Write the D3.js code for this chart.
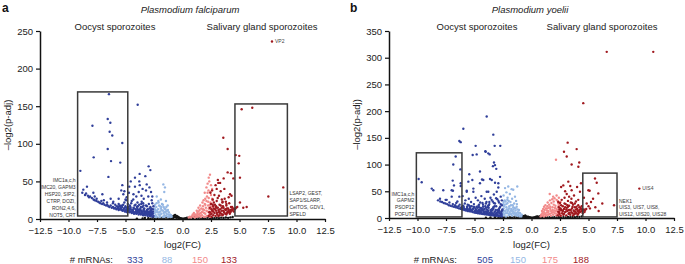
<!DOCTYPE html>
<html>
<head>
<meta charset="utf-8">
<script src="https://cdn.jsdelivr.net/npm/d3@7"></script>
<style>
  body { margin: 0; background: #fff; }
  svg { display: block; font-family: "Liberation Sans", Arial, sans-serif; }
</style>
</head>
<body>
<svg id="chart" width="685" height="264"></svg>
<script>
// ---- shared ticks ----
const xTicks = [-12.5, -10, -7.5, -5, -2.5, 0, 2.5, 5, 7.5, 10, 12.5];
const aYTicks = [0, 50, 100, 150, 200, 250];
const bYTicks = [0, 50, 100, 150, 200, 250, 300, 350];

// ---- panel a: P. falciparum, points are [log2(FC), -log2(p-adj)] ----
const aBlack = [[-4,0.5],[-3.5,0.8],[-3.3,1.4],[-3.0,1],[-2.8,0.5],[-2.6,1.5],[-2.4,0.8],[-2.2,1.2],[-2.0,0.6],[-1.8,1.5],[-1.6,0.9],[-1.4,1.8],[-1.2,1],[-1.0,2],[-0.95,1],[-0.9,3.5],[-0.85,2.5],[-0.8,1.3],[-0.75,4.5],[-0.7,2.5],[-0.65,5.5],[-0.6,3],[-0.55,1.5],[-0.5,4],[-0.45,2],[-0.4,3],[-0.35,1.2],[-0.3,2],[-0.25,0.8],[-0.2,1.2],[-0.15,0.5],[-0.1,0.7],[0,0.3],[0.1,0.5],[0.2,0.8],[0.3,1.2],[0.4,1.8],[0.5,1],[0.6,2.2],[0.7,1.5],[0.8,2.5],[0.9,1.2],[1.0,2],[1.1,3],[1.2,1],[1.3,2.8],[1.4,1.6],[1.6,0.8],[1.8,1.4],[2.0,0.9],[2.2,1.6],[2.4,0.7],[2.6,1.3],[2.8,0.9],[3.0,1.5],[3.2,1.1],[3.4,1.8],[3.6,1.3],[3.8,2],[4.0,1.5],[4.2,2.2],[4.4,2.6]];
const aLightBlue = [[-1.68,46],[-1.54,42],[-2.26,30],[-1.9,26],[-1.6,36],[-2.1,22],[-1.45,24],[-1.3,18],[-2.5,4],[-2.45,8],[-2.4,12],[-2.35,5],[-2.3,16],[-2.25,3],[-2.2,9],[-2.15,13],[-2.1,6],[-2.05,18],[-2.0,4],[-1.95,10],[-1.9,14],[-1.85,7],[-1.8,20],[-1.75,3],[-1.7,11],[-1.65,16],[-1.6,5],[-1.55,9],[-1.5,13],[-1.45,4],[-1.4,7],[-1.35,11],[-1.3,3],[-1.25,6],[-1.2,9],[-1.15,4],[-1.1,6],[-1.05,3],[-1.0,5],[-0.95,3],[-2.42,19],[-2.28,21],[-2.12,24],[-1.98,17],[-1.83,12],[-1.72,19],[-1.58,14],[-1.42,16],[-1.28,12],[-2.38,2.5],[-2.02,2.5],[-1.62,2.5],[-1.22,2.5],
  [-2.45,14],[-2.25,11],[-2.05,9],[-1.85,16],[-1.65,8],[-1.45,10],[-2.35,9],[-1.95,6]];
const aDarkBlue = [[-6.45,166],[-3.93,152],[-7.9,124],[-6.56,133],[-6.33,128],[-6.39,116],[-6.16,111],[-5.28,101],[-6.56,93],[-7.79,82],[-6.27,77],[-5.46,75],[-8.96,64],[-6.5,56],
  [-2.97,70],[-2.82,65],[-3.76,60],[-3.26,57],[-4.17,55],[-4.54,50],[-3.79,50],[-3.14,46],[-5.28,45],[-4.67,43],[-4.17,43],[-3.84,36],[-2.76,36],[-8.38,43],[-8.7,39],[-8.79,35],[-8.46,34],[-7.82,35],[-7.03,33],[-8.11,30],[-7.53,27],[-7.12,24],[-6.62,22],[-6.07,23],[-5.37,38],[-5.19,33],[-4.9,29],[-4.32,26],[-3.58,23],[-3,30],[-2.7,25],
  [-8.55,32],[-8.3,31],[-8.2,29],[-7.95,28],[-7.8,26],[-7.7,25],[-7.55,24],[-7.4,23],[-7.3,22],[-7.2,21],[-7.05,20],[-6.95,21],[-6.85,19],[-6.7,18],[-6.6,19],[-6.5,17],[-6.4,16],[-6.3,18],[-6.2,15],[-6.1,16],[-6.0,14],[-5.9,15],[-5.8,13],[-5.7,14],[-5.6,12],[-5.5,13],[-5.45,16],[-5.35,12],[-5.25,11],[-5.15,14],[-5.05,10],[-4.95,12],[-4.85,9],[-4.75,11],[-4.65,9],[-4.55,13],[-4.45,8],[-4.35,10],[-4.25,7],[-4.15,9],[-4.05,7],[-3.95,11],[-3.85,6],[-3.75,8],[-3.65,6],[-3.55,9],[-3.45,5],[-3.35,7],[-3.25,5],[-3.15,8],[-3.05,4],[-2.95,6],[-2.85,4],[-2.75,5],[-2.65,3],[-2.6,7],
  [-6.1,21],[-5.9,19],[-5.75,17],[-5.6,20],[-5.5,18],[-5.3,16],[-5.2,19],[-5.1,22],[-5.0,17],[-4.9,15],[-4.8,20],[-4.7,14],[-4.6,17],[-4.5,21],[-4.4,12],[-4.3,15],[-4.2,18],[-4.1,13],[-4.0,16],[-3.9,12],[-3.8,19],[-3.7,14],[-3.6,11],[-3.5,16],[-3.4,13],[-3.3,10],[-3.2,18],[-3.1,12],[-3.0,9],[-2.9,14],[-2.8,11],[-2.7,9],[-2.6,13],[-2.55,17],[-4.95,25],[-4.45,24],[-3.95,22],[-3.45,21],[-2.95,20],[-2.65,21],[-5.6,27],[-4.05,30],[-3.4,27],[-3.6,31],[-5.0,26],[-4.3,33],[-3.2,38],[-2.9,42],[-3.5,40],[-5.1,37],[-4.7,35],[-3.75,45],[-2.65,30],[-6.9,25],[-7.7,30],[-6.3,27],
  [-5.2,12],[-4.9,11],[-4.6,10],[-4.3,9],[-4.0,8],[-3.7,7],[-3.4,6],[-3.1,6],[-2.8,5],[-3.9,9],[-3.3,8],[-2.9,7],[-3.6,10],[-4.4,11],[-2.7,6],[-3.0,7],[-3.2,9],[-3.5,8],[-3.8,10],[-4.1,10],[-2.55,4],[-2.75,8],[-3.05,10],[-2.9,9],[-3.4,11],[-3.7,12],[-4.7,12],[-5.4,14],
  [-5.65,15],[-5.55,17],[-5.4,13],[-5.3,18],[-5.15,12],[-5.05,15],[-4.95,10],[-4.85,13],[-4.75,16],[-4.65,11],[-4.55,15],[-4.45,9],[-4.35,12],[-4.25,14],[-4.15,8],[-4.05,11],[-3.95,14],[-3.85,9],[-3.75,12],[-3.65,16],[-3.55,7],[-3.45,10],[-3.35,14],[-3.25,8],[-3.15,11],[-3.05,13],[-2.95,8],[-2.85,10],[-2.75,12],[-2.65,8],[-2.58,10],[-3.62,20],[-4.12,19],[-4.62,18],[-2.82,16],[-3.12,17],[-3.42,18],[-3.92,17],[-2.72,14]];
const aPink = [[2.41,59],[2.3,55],[2.35,50],[2.2,47],[2.5,45],[2.1,42],[2.28,38],[1.95,35],[0.55,2],[0.65,3],[0.75,2],[0.85,4],[0.95,3],[1.05,5],[1.1,2],[1.15,6],[1.25,4],[1.3,8],[1.35,3],[1.4,10],[1.45,6],[1.5,12],[1.55,4],[1.6,8],[1.65,14],[1.7,5],[1.75,10],[1.8,17],[1.85,3],[1.9,12],[1.95,20],[2.0,7],[2.05,15],[2.1,24],[2.15,4],[2.2,10],[2.25,18],[2.3,28],[2.35,6],[2.4,13],[2.45,22],[2.5,32],[2.55,9],[2.6,16],[2.65,25],[2.7,12],[1.2,3],[1.6,2.5],[2.0,3],[2.4,3],[1.75,22],[2.15,30],[2.0,27],[1.85,25],[2.45,36],[2.6,40],[2.55,20],[2.2,35],[1.55,18],[1.4,15],[1.25,11],[1.0,8],[0.9,6],
  [1.3,5],[1.5,7],[1.7,9],[1.9,8],[2.1,11],[2.3,14],[2.5,16],[2.0,19],[2.25,23],[2.4,19],[1.8,13],[2.6,27]];
const aDarkRed = [[7.85,236],[5.19,146],[6.12,148],[3.58,108],[3.96,93],[4.67,85],[4.98,84],[4.93,74],[3.96,62],[4.25,61],[4.46,54],[5.04,55],[3.61,54],[3.14,48],[3.3,48],[3.67,40],[4.17,33],[4.3,31],[3.09,28],[3.52,23],[5.04,22],[5.33,15],[5.63,16],[7.53,30],[8.84,42],
  [2.3,4],[2.35,9],[2.4,15],[2.45,6],[2.5,20],[2.55,3],[2.6,11],[2.65,26],[2.7,5],[2.75,14],[2.8,8],[2.85,19],[2.9,4],[2.95,11],[3.0,24],[3.05,6],[3.1,15],[3.15,9],[3.2,31],[3.25,5],[3.3,13],[3.35,18],[3.4,7],[3.45,11],[3.5,22],[3.55,6],[3.6,15],[3.65,9],[3.7,27],[3.75,7],[3.8,12],[3.85,18],[3.9,8],[3.95,10],[4.0,14],[4.05,9],[4.1,21],[4.15,10],[4.2,12],[4.25,16],[4.3,11],[4.35,13],[4.4,12],[4.5,14],[4.6,13],[4.7,15],[4.8,16],[2.45,35],[2.6,38],[2.8,32],[3.0,40],[2.9,45],[3.35,37],[3.1,52],[2.75,22],[3.45,26],[2.95,17],[3.8,23],[4.05,29],[3.25,19],[2.55,13],[2.7,17],[3.15,4],[3.5,5],[3.85,6],[4.15,7],
  [2.4,9],[2.55,7],[2.7,10],[2.85,13],[3.0,8],[3.15,12],[3.3,8],[3.45,15],[3.6,11],[3.75,13],[3.9,14],[4.05,12],[4.2,9],[4.35,16],[4.5,10],[2.65,19],[2.95,15],[3.25,10],[3.55,17],[3.85,20]];
const aCounts = [333, 88, 150, 133];
// boxes as [fcMin, fcMax, yMin, yMax]
const aBoxes = [[-9.2, -4.8, 4, 169], [4.6, 9.2, 4, 153]];
const aLeftLabels = ["IMC1a,c,h", "IMC20, GAPM3", "HSP20, SIP2,", "CTRP, DOZI,", "RON2,4,6,", "NOT5, CRT"];
const aRightLabels = ["LSAP2, GEST,", "SAP1/SLARP,", "CelTOS, GDV1,", "SPELD"];
const aCallouts = [[7.85, 236, "VP2"]];

// ---- panel b: P. yoelii ----
const bBlack = [[-4,0.6],[-3.6,1],[-3.2,1.4],[-2.9,0.7],[-2.7,1.6],[-2.5,0.9],[-2.3,1.3],[-2.1,0.6],[-1.9,1.6],[-1.7,1],[-1.5,1.9],[-1.3,1.1],[-1.1,2.1],[-1.0,1.2],[-0.9,3.2],[-0.85,1.8],[-0.8,2.6],[-0.75,4],[-0.7,1.5],[-0.65,3.5],[-0.6,2.2],[-0.55,4.6],[-0.5,1.4],[-0.45,3],[-0.4,2],[-0.35,1],[-0.3,2.4],[-0.25,0.9],[-0.2,1.5],[-0.15,0.6],[-0.1,0.9],[0,0.4],[0.1,0.7],[0.2,1.1],[0.3,1.6],[0.4,2.4],[0.45,1.2],[0.5,3],[0.55,1.8],[0.6,2.6],[0.7,1.4],[0.75,3.4],[0.8,2],[0.9,1.2],[1.0,2.2],[1.2,1.3],[1.4,0.9],[1.6,1.5],[1.8,0.8],[2.0,1.4],[2.2,0.9],[2.4,1.6],[2.6,1],[2.8,1.7],[3.0,1.1],[3.2,1.9],[3.4,1.3],[3.6,2],[3.8,1.5],[4.0,2.3],[4.2,1.8],[4.4,2.7]];
const bLightBlue = [[-2.04,59],[-1.25,59],[-1.6,53],[-1.74,54],[-2.32,56],[-2.2,48],[-1.9,45],[-2.45,42],[-1.45,40],[-2.1,38],[-1.7,36],[-2.35,33],[-1.35,32],
  [-2.55,4],[-2.5,10],[-2.45,18],[-2.4,6],[-2.35,25],[-2.3,13],[-2.25,3],[-2.2,20],[-2.15,9],[-2.1,28],[-2.05,15],[-2.0,5],[-1.95,22],[-1.9,11],[-1.85,30],[-1.8,7],[-1.75,17],[-1.7,4],[-1.65,24],[-1.6,12],[-1.55,8],[-1.5,19],[-1.45,5],[-1.4,14],[-1.35,9],[-1.3,21],[-1.25,4],[-1.2,11],[-1.15,7],[-1.1,15],[-1.05,3],[-1.0,9],[-0.95,5],[-0.9,3],[-0.85,6],[-2.48,26],[-2.28,31],[-2.12,34],[-1.98,8],[-1.82,14],[-1.68,9],[-1.52,27],[-1.38,6],[-1.22,16],[-1.08,10],[-2.42,13],[-2.18,16],[-1.92,18],[-1.58,16],[-1.28,26],
  [-2.5,7],[-2.3,9],[-2.1,12],[-1.9,7],[-1.7,13],[-1.5,10],[-1.3,7],[-2.4,22],[-2.2,26],[-2.0,18],[-1.8,24],[-1.6,20],[-1.4,18],[-1.2,5],[-2.45,30],[-2.0,32]];
const bDarkBlue = [[-5.98,167],[-3.93,190],[-6.33,144],[-6.21,142],[-4.9,135],[-3.35,156],[-3.23,135],[-4.05,125],[-3.79,121],[-4.81,119],[-3.29,104],[-6.65,115],[-6.86,100],[-6.24,91],[-5.46,82],[-4.52,87],[-4.34,72],[-3.64,73],[-3.09,92],[-9.9,73],[-9.63,67],[-8.75,55],[-8.61,52],[-7.74,52],[-7.0,52],[-6.91,70],[-6.21,65],[-6.21,60],[-8.03,36],[-7.53,34],[-6.33,40],[-5.68,51],[-5.1,55],[-4.52,65],[-3.93,49],[-3.2,66],[-2.91,57],[-6.56,21],
  [-2.74,135],[-4.02,124],[-3.67,119],[-5.16,118],[-3.38,97],[-3.2,99],[-6.8,61],[-6.89,51],[-5.54,68],[-5.19,71],[-4.23,71],[-3.49,71],[-2.91,65],[-2.76,77],[-6.04,41],[-5.68,49],[-5.1,49],[-3.79,49],[-3.05,49],[-7.44,34],[-7,40],
  [-8.2,33],[-8.0,31],[-7.85,30],[-7.7,28],[-7.55,27],[-7.4,26],[-7.25,24],[-7.1,23],[-6.95,22],[-6.8,21],[-6.65,20],[-6.5,19],[-6.35,18],[-6.2,17],[-6.05,16],[-5.9,15],[-5.75,14],[-5.6,13],[-5.45,12.5],[-5.3,12],[-5.15,11],[-5.0,10],[-4.85,9.5],[-4.7,9],[-4.55,8.5],[-4.4,8],[-4.25,7.5],[-4.1,7],[-3.95,6.5],[-3.8,6],[-3.65,5.5],[-3.5,5],[-3.35,4.8],[-3.2,4.5],[-3.05,4],[-2.9,3.8],[-2.75,3.5],[-2.6,3],
  [-7.2,29],[-6.9,26],[-6.7,24],[-6.6,28],[-6.4,22],[-6.3,25],[-6.15,20],[-6.0,23],[-5.95,19],[-5.85,27],[-5.7,17],[-5.65,21],[-5.55,16],[-5.5,24],[-5.4,19],[-5.35,15],[-5.25,22],[-5.2,14],[-5.1,18],[-5.05,26],[-4.95,13],[-4.9,17],[-4.8,21],[-4.75,12],[-4.65,15],[-4.6,25],[-4.5,11],[-4.45,19],[-4.35,14],[-4.3,28],[-4.2,10],[-4.15,17],[-4.05,22],[-4.0,12],[-3.9,9],[-3.85,15],[-3.75,19],[-3.7,26],[-3.6,8],[-3.55,13],[-3.45,17],[-3.4,31],[-3.3,7],[-3.25,11],[-3.15,15],[-3.1,22],[-3.0,6],[-2.95,10],[-2.85,14],[-2.8,19],[-2.7,7],[-2.65,12],[-2.6,24],[-2.55,16],[-5.8,33],[-5.3,30],[-4.7,33],[-4.1,36],[-3.6,38],[-3.0,35],[-2.7,40],[-3.3,44],[-4.4,41],[-2.85,29],[-3.5,34],[-4.9,38],[-5.5,36],[-6.5,31],[-3.95,30],[-3.2,27],[-2.6,33],[-4.25,25],[-3.8,23],[-5.0,20],[-4.55,16],[-3.35,20],
  [-5.9,17],[-5.6,16],[-5.3,14],[-5.0,12],[-4.7,11],[-4.4,10],[-4.1,9],[-3.8,8],[-3.5,7],[-3.2,6],[-2.9,5],[-2.7,5],[-4.6,13],[-4.2,12],[-3.9,11],[-3.4,9],[-3.1,8],[-2.8,9],[-3.7,10],[-4.9,14],[-5.4,17],[-6.2,19],
  [-6.1,18],[-5.95,21],[-5.8,16],[-5.65,19],[-5.5,15],[-5.4,22],[-5.25,14],[-5.15,17],[-5.05,21],[-4.95,11],[-4.85,15],[-4.75,19],[-4.65,23],[-4.55,10],[-4.45,13],[-4.35,17],[-4.25,21],[-4.15,9],[-4.05,12],[-3.95,16],[-3.85,20],[-3.75,24],[-3.65,8],[-3.55,11],[-3.45,14],[-3.35,18],[-3.25,22],[-3.15,7],[-3.05,10],[-2.95,13],[-2.85,17],[-2.75,21],[-2.65,9],[-2.58,14],[-2.62,6],[-2.8,11],[-3.0,15],[-3.2,12],[-3.4,16],[-3.6,15],[-3.8,13],[-4.0,19],[-4.2,15],[-4.4,18],[-4.6,20],[-4.8,13],[-5.2,16],[-3.3,28],[-3.7,30],[-2.9,32],[-4.5,29],[-2.7,26],[-3.1,37],[-4.0,27],[-5.6,25]];
const bPink = [[2.15,109],[1.6,45],[2.2,42],[1.9,40],[2.4,38],[0.8,3],[0.85,6],[0.9,4],[0.95,9],[1.0,5],[1.05,12],[1.1,3],[1.15,15],[1.2,7],[1.25,18],[1.3,4],[1.35,10],[1.4,22],[1.45,6],[1.5,13],[1.55,25],[1.6,8],[1.65,17],[1.7,4],[1.75,28],[1.8,11],[1.85,20],[1.9,6],[1.95,31],[2.0,14],[2.05,9],[2.1,23],[2.15,5],[2.2,34],[2.25,16],[2.3,11],[2.35,27],[2.4,7],[2.45,19],[2.5,13],[2.55,30],[2.6,9],[1.02,17],[1.22,24],[1.42,29],[1.62,33],[1.82,35],[2.02,37],[1.35,14],[1.72,13],[2.12,18],[2.42,24],[1.52,19],[0.92,13],[1.1,21],[1.95,25],[2.3,32],
  [1.05,8],[1.15,10],[1.25,6],[1.35,18],[1.45,11],[1.55,7],[1.65,21],[1.75,9],[1.85,15],[1.95,11],[2.05,19],[2.15,13],[2.25,8],[2.35,21],[2.45,12],[2.55,17],[2.6,4],[2.5,6]];
const bDarkRed = [[6.6,311],[10.68,311],[4.54,215],[3.17,141],[2.85,124],[3.96,129],[3.09,115],[3.52,100],[4.19,104],[4.11,96],[5.57,74],[5.72,66],[4.34,65],[3.23,68],[2.79,61],[3.52,52],[4.99,52],[5.1,51],[5.86,46],[4.25,49],[3.09,45],[3.73,42],[4.84,27],[5.22,30],[6.21,27],[7.24,24],[5.89,13],[5.13,18],[9.46,55],
  [2.6,58],[3.4,60],[4.0,58],[2.95,50],[3.3,40],[4.6,38],[4.1,34],[5.4,36],[5.0,22],[5.6,20],
  [2.3,5],[2.35,12],[2.4,20],[2.45,8],[2.5,28],[2.55,4],[2.6,15],[2.65,34],[2.7,9],[2.75,22],[2.8,6],[2.85,17],[2.9,38],[2.95,11],[3.0,26],[3.05,5],[3.1,19],[3.15,13],[3.2,32],[3.25,8],[3.3,23],[3.35,15],[3.4,6],[3.45,29],[3.5,11],[3.55,18],[3.6,9],[3.65,25],[3.7,14],[3.75,7],[3.8,20],[3.85,12],[3.9,31],[3.95,9],[4.0,17],[4.05,13],[4.1,24],[4.15,10],[4.2,15],[4.25,11],[4.3,19],[4.35,12],[4.4,14],[4.5,13],[4.6,16],[4.7,14],[4.8,17],[2.45,16],[2.75,13],[3.05,16],[3.35,10],[3.65,5],[3.95,21],[2.6,24],[2.9,27],[3.2,21],[3.5,36],[3.8,27],[4.1,8],[4.4,22],[2.35,30],
  [2.4,11],[2.55,18],[2.7,14],[2.85,8],[3.0,12],[3.15,24],[3.3,9],[3.45,15],[3.6,21],[3.75,12],[3.9,16],[4.05,6],[4.2,20],[4.35,17],[4.5,9],[4.65,11],[2.95,20],[3.25,15],[3.55,28],[3.85,9],[4.15,13]];
const bCounts = [505, 150, 175, 188];
const bBoxes = [[-10.1, -6.1, 2, 122], [4.5, 7.5, 2, 84]];
const bLeftLabels = ["IMC1a,c,h", "GAPM2", "PSOP12", "POFUT2"];
const bRightLabels = ["NEK1", "UIS3, UIS7, UIS8,", "UIS12, UIS20, UIS28"];
const bCallouts = [[9.46, 55, "UIS4"]];

const colors = { black: "#151515", lightBlue: "#95b7e4", darkBlue: "#303f9a", pink: "#f28a8a", darkRed: "#a0191f" };
const countColors = [colors.darkBlue, colors.lightBlue, colors.pink, colors.darkRed];

const svg = d3.select("#chart");

function drawPanel(cfg) {
    const x = d3.scaleLinear().domain([-12.5, 12.5]).range([cfg.left, cfg.right]);
    const y = d3.scaleLinear().domain([0, cfg.yMax]).range([cfg.bottom, cfg.top]);
    const g = svg.append("g");

    // axes
    const fmt = d3.format(".1f");
    const xAxis = g.append("g")
        .attr("transform", `translate(0,${cfg.bottom})`)
        .call(d3.axisBottom(x).tickValues(xTicks).tickFormat(fmt).tickSize(3).tickSizeOuter(0).tickPadding(5));
    const yAxis = g.append("g")
        .attr("transform", `translate(${cfg.left},0)`)
        .call(d3.axisLeft(y).tickValues(cfg.yTicks).tickSize(4).tickSizeOuter(0).tickPadding(3));
    [xAxis, yAxis].forEach(a => {
        a.select(".domain").attr("stroke", "#111").attr("stroke-width", 1.5);
        a.selectAll(".tick line").attr("stroke", "#111").attr("stroke-width", 1.2);
        a.selectAll(".tick text").attr("fill", "#222").style("font-size", "9.5px");
    });

    // points, black first so the coloured groups sit on top
    const groups = [
        [cfg.black, colors.black],
        [cfg.lightBlue, colors.lightBlue],
        [cfg.pink, colors.pink],
        [cfg.darkBlue, colors.darkBlue],
        [cfg.darkRed, colors.darkRed]
    ];
    groups.forEach(([pts, col]) => {
        g.append("g").selectAll("circle")
            .data(pts)
            .enter().append("circle")
            .attr("cx", d => x(d[0]))
            .attr("cy", d => y(d[1]))
            .attr("r", 1.2)
            .attr("fill", col);
    });

    // boxes
    g.append("g").selectAll("rect")
        .data(cfg.boxes)
        .enter().append("rect")
        .attr("x", d => x(d[0]))
        .attr("y", d => y(d[3]))
        .attr("width", d => x(d[1]) - x(d[0]))
        .attr("height", d => y(d[2]) - y(d[3]))
        .attr("fill", "none")
        .attr("stroke", "#3a3a3a")
        .attr("stroke-width", 1.5);

    // gene labels beside boxes
    const lbl = (lines, xPos, y0, anchor) => {
        g.append("g").selectAll("text")
            .data(lines)
            .enter().append("text")
            .attr("x", xPos)
            .attr("y", (d, i) => y0 + i * 6.9)
            .attr("text-anchor", anchor)
            .attr("fill", "#333")
            .style("font-size", "5px")
            .text(d => d);
    };
    lbl(cfg.leftLabels, x(cfg.boxes[0][0]) - 2, cfg.leftLabelY, "end");
    lbl(cfg.rightLabels, x(cfg.boxes[1][1]) + 2, cfg.rightLabelY, "start");

    cfg.callouts.forEach(c => {
        g.append("text")
            .attr("x", x(c[0]) + 3)
            .attr("y", y(c[1]) + 1.7)
            .attr("fill", "#444")
            .style("font-size", "5px")
            .text(c[2]);
    });

    // titles
    g.append("text").attr("x", cfg.letterX).attr("y", 12)
        .style("font-size", "12px").style("font-weight", "bold").attr("fill", "#111").text(cfg.letter);
    g.append("text").attr("x", cfg.titleX).attr("y", 13).attr("text-anchor", "middle")
        .style("font-size", "9.5px").style("font-style", "italic").attr("fill", "#222").text(cfg.title);
    g.append("text").attr("x", cfg.leftSubX).attr("y", 30).attr("text-anchor", "middle")
        .style("font-size", "9.5px").attr("fill", "#222").text("Oocyst sporozoites");
    g.append("text").attr("x", cfg.rightSubX).attr("y", 30).attr("text-anchor", "middle")
        .style("font-size", "9.5px").attr("fill", "#222").text("Salivary gland sporozoites");

    // axis titles
    g.append("text").attr("x", x(0)).attr("y", 248).attr("text-anchor", "middle")
        .style("font-size", "9.5px").attr("fill", "#222").text("log2(FC)");
    g.append("text")
        .attr("transform", `translate(${cfg.left - 29},${(cfg.top + cfg.bottom) / 2}) rotate(-90)`)
        .attr("text-anchor", "middle")
        .style("font-size", "9.5px").attr("fill", "#222").text("\u2013log2(p-adj)");

    // counts row
    g.append("text").attr("x", cfg.countLabelX).attr("y", 263).attr("text-anchor", "end")
        .style("font-size", "9.5px").attr("fill", "#222").text("# mRNAs:");
    g.append("g").selectAll("text")
        .data(cfg.counts)
        .enter().append("text")
        .attr("x", (d, i) => cfg.countX[i])
        .attr("y", 263)
        .attr("text-anchor", "middle")
        .style("font-size", "9.5px")
        .attr("fill", (d, i) => countColors[i])
        .text(d => d);
}

drawPanel({
    left: 40, right: 325, top: 31, bottom: 219, yMax: 250, yTicks: aYTicks,
    black: aBlack, lightBlue: aLightBlue, darkBlue: aDarkBlue, pink: aPink, darkRed: aDarkRed,
    boxes: aBoxes, leftLabels: aLeftLabels, rightLabels: aRightLabels, callouts: aCallouts,
    leftLabelY: 182, rightLabelY: 195,
    letter: "a", letterX: 2, title: "Plasmodium falciparum", titleX: 190, leftSubX: 115, rightSubX: 262,
    counts: aCounts, countLabelX: 113, countX: [135, 167, 200, 229]
});

drawPanel({
    left: 389, right: 674, top: 31, bottom: 218, yMax: 350, yTicks: bYTicks,
    black: bBlack, lightBlue: bLightBlue, darkBlue: bDarkBlue, pink: bPink, darkRed: bDarkRed,
    boxes: bBoxes, leftLabels: bLeftLabels, rightLabels: bRightLabels, callouts: bCallouts,
    leftLabelY: 195.5, rightLabelY: 202.5,
    letter: "b", letterX: 350, title: "Plasmodium yoelii", titleX: 530, leftSubX: 477, rightSubX: 602,
    counts: bCounts, countLabelX: 457, countX: [485, 518, 550, 581]
});
</script>
</body>
</html>
